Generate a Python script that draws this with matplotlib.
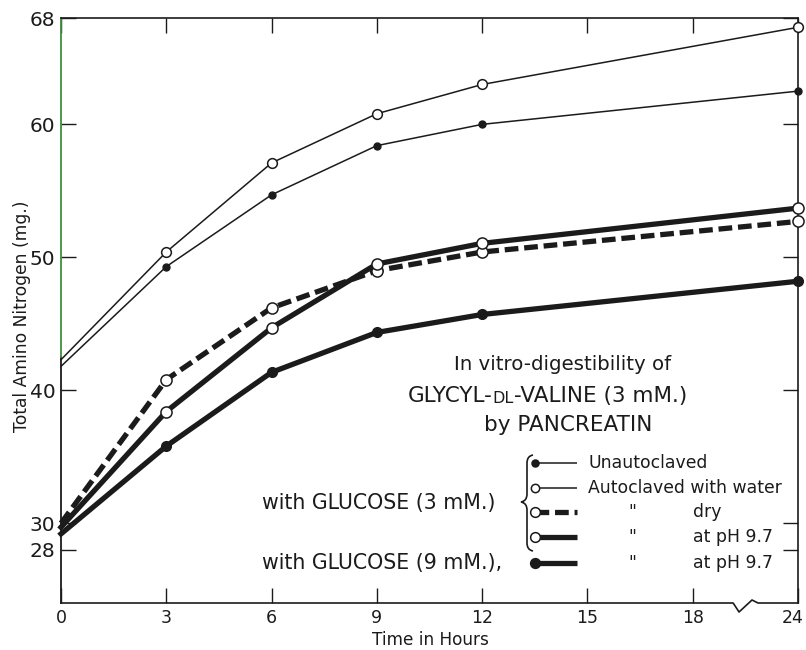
import numpy as np
import matplotlib
matplotlib.use("Agg")
import matplotlib.pyplot as plt
from matplotlib.lines import Line2D
from matplotlib.path import Path
from matplotlib.patches import PathPatch
from matplotlib.transforms import ScaledTranslation

# ---------------- data ----------------
hours = [0, 3, 6, 9, 12, 24]
unautoclaved = [41.8, 49.3, 54.7, 58.4, 60.0, 62.5]
autoclaved_water = [42.3, 50.4, 57.1, 60.8, 63.0, 67.3]
autoclaved_dry = [30.0, 40.8, 46.2, 49.0, 50.4, 52.7]
autoclaved_ph97_3mM = [29.7, 38.4, 44.7, 49.5, 51.05, 53.7]
autoclaved_ph97_9mM = [29.2, 35.8, 41.35, 44.35, 45.7, 48.2]

x_ticks = [0, 3, 6, 9, 12, 15, 18, 24]
x_ticklabels = ["0", "3", "6", "9", "12", "15", "18", "24"]
y_ticks = [28, 30, 40, 50, 60, 68]
y_ticklabels = ["28", "30", "40", "50", "60", "68"]

W, H = 806, 650
INK = "#1b1b1b"
plt.rcParams['font.family'] = ['DejaVu Sans']

fig = plt.figure(figsize=(W / 100, H / 100), dpi=100)
fig.patch.set_facecolor("white")
ax = fig.add_axes([61 / W, 1 - 603 / H, (798 - 61) / W, (603 - 18) / H])


def fwd(t):
    t = np.asarray(t, dtype=float)
    return np.where(t <= 18, t, 18 + (t - 18) / 2.0)


def inv(u):
    u = np.asarray(u, dtype=float)
    return np.where(u <= 18, u, 18 + (u - 18) * 2.0)


ax.set_xscale("function", functions=(fwd, inv))
ax.set_xlim(0, 24)
ax.set_ylim(24, 68)

mk = slice(1, None)
thin = 1.1
thick = 3.8

ax.plot(hours, autoclaved_water, color=INK, lw=thin, marker="o", ms=7,
        mfc="white", mec=INK, mew=1.1, markevery=mk, clip_on=False, zorder=3)
ax.plot(hours, unautoclaved, color=INK, lw=thin, marker="o", ms=5,
        mfc=INK, mec=INK, markevery=mk, clip_on=False, zorder=3)
ax.plot(hours, autoclaved_dry, color=INK, lw=thick, ls=(0, (2.6, 1.1)),
        marker="o", ms=8, mfc="white", mec=INK, mew=1.1, markevery=mk,
        clip_on=False, zorder=3, solid_capstyle="butt", dash_capstyle="butt")
ax.plot(hours, autoclaved_ph97_3mM, color=INK, lw=thick, marker="o", ms=8,
        mfc="white", mec=INK, mew=1.1, markevery=mk, clip_on=False, zorder=4)
ax.plot(hours, autoclaved_ph97_9mM, color=INK, lw=thick, marker="o", ms=7,
        mfc=INK, mec=INK, markevery=mk, clip_on=False, zorder=3)

# ticks
ax.set_xticks(x_ticks)
ax.set_xticklabels(x_ticklabels)
ax.set_yticks(y_ticks)
ax.set_yticklabels(y_ticklabels)
ax.xaxis.set_minor_locator(matplotlib.ticker.NullLocator())
ax.tick_params(axis="both", direction="in", length=11, width=1.0, color=INK,
               top=True, right=True)
ax.tick_params(axis="x", labelsize=12.5, pad=4, labelcolor=INK)
ax.tick_params(axis="y", labelsize=14.5, pad=4, labelcolor=INK)
last = ax.get_xticklabels()[-1]
last.set_transform(last.get_transform() +
                   ScaledTranslation(-5 / 100, 0, fig.dpi_scale_trans))

# spines
for s in ["top", "right"]:
    ax.spines[s].set_color(INK)
    ax.spines[s].set_linewidth(1.2)
ax.spines["bottom"].set_visible(False)
ax.spines["left"].set_visible(False)
ax.axvline(0, ymin=0, ymax=(42.5 - 24) / 44, color=INK, lw=1.3, clip_on=False)
ax.axvline(0, ymin=(42.5 - 24) / 44, ymax=1, color="#3f8f3f", lw=1.3, clip_on=False)

# broken bottom axis with zigzag
ph = 585.0
zx = [0, 0.912, 0.920, 0.9376, 0.9457, 1.0]
zy = [0, 0, -9 / ph, 3 / ph, 0, 0]
ax.plot(zx, zy, transform=ax.transAxes, color=INK, lw=1.2, clip_on=False)

# axis labels
fig.text(22 / W, 1 - 316 / H, "Total Amino Nitrogen (mg.)", rotation=90,
         ha="center", va="center", fontsize=12.3, color=INK)
fig.text(430 / W, 1 - 640 / H, "Time in Hours", ha="center", va="center",
         fontsize=12.2, color=INK)

# title block
fig.text(563 / W, 1 - 364 / H, "In vitro-digestibility of", ha="center",
         va="center", fontsize=14.2, color=INK)
t1 = fig.text(408 / W, 1 - 396 / H, "GLYCYL-", ha="left", va="center",
              fontsize=15.5, color=INK)
t2 = ax.annotate("DL", xy=(1, 0), xycoords=t1, ha="left", va="bottom",
                 fontsize=11.5, color=INK)
t3 = ax.annotate("-VALINE (3 mM.)", xy=(1, 0), xycoords=t2, ha="left",
                 va="bottom", fontsize=15.5, color=INK)
fig.text(568 / W, 1 - 425 / H, "by PANCREATIN", ha="center", va="center",
         fontsize=15.5, color=INK)


def P(px, py):
    return (px / W, 1 - py / H)


# legend
rows = [463, 488, 512, 537, 563]
styles = [
    dict(lw=thin, ls="-", ms=5, mfc=INK),
    dict(lw=thin, ls="-", ms=6, mfc="white"),
    dict(lw=thick, ls=(0, (2.6, 1.1)), ms=7, mfc="white"),
    dict(lw=thick, ls="-", ms=7, mfc="white"),
    dict(lw=thick, ls="-", ms=7, mfc=INK),
]
for y, st in zip(rows, styles):
    a, b = P(535, y), P(577, y)
    fig.add_artist(Line2D([a[0], b[0]], [a[1], b[1]], color=INK, lw=st["lw"],
                          ls=st["ls"], transform=fig.transFigure,
                          solid_capstyle="butt", dash_capstyle="butt"))
    fig.add_artist(Line2D([a[0]], [a[1]], marker="o", ms=st["ms"], mfc=st["mfc"],
                          mec=INK, mew=1.1, color=INK, lw=0,
                          transform=fig.transFigure))

lab = dict(fontsize=12.4, color=INK, va="center")
fig.text(*P(588, rows[0]), "Unautoclaved", ha="left", **lab)
fig.text(*P(588, rows[1]), "Autoclaved with water", ha="left", **lab)
for r in rows[2:]:
    fig.text(*P(632, r), "\"", ha="center", **lab)
fig.text(*P(693, rows[2]), "dry", ha="left", **lab)
fig.text(*P(693, rows[3]), "at pH 9.7", ha="left", **lab)
fig.text(*P(693, rows[4]), "at pH 9.7", ha="left", **lab)

fig.text(*P(262, 503), "with GLUCOSE (3 mM.)", ha="left", fontsize=14.8,
         color=INK, va="center")
fig.text(*P(262, 563), "with GLUCOSE (9 mM.),", ha="left", fontsize=14.8,
         color=INK, va="center")

# brace
bp = [(533, 455), (527, 456), (527, 463), (527, 494), (527, 501), (521, 502),
      (527, 503), (527, 510), (527, 543), (527, 550), (533, 551)]
codes = [Path.MOVETO, Path.CURVE3, Path.CURVE3, Path.LINETO, Path.CURVE3,
         Path.CURVE3, Path.CURVE3, Path.CURVE3, Path.LINETO, Path.CURVE3,
         Path.CURVE3]
brace = Path([P(*p) for p in bp], codes)
fig.add_artist(PathPatch(brace, fill=False, lw=1.2, edgecolor=INK,
                         transform=fig.transFigure))

fig.savefig("out.png", dpi=100, facecolor="white")
